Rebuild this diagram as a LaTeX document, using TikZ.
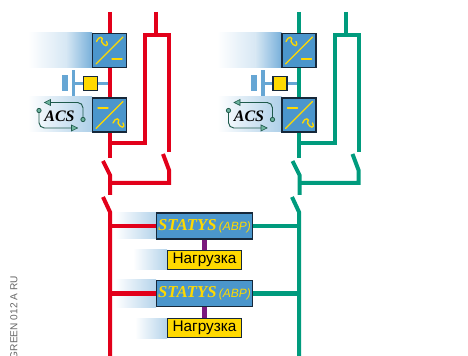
\documentclass[tikz,border=0pt]{standalone}
\usepackage{fontspec}
\setmainfont{Liberation Sans}
\newfontfamily\serifbi[BoldFont=Liberation Serif Bold,ItalicFont=Liberation Serif Italic]{Liberation Serif}
\usetikzlibrary{calc}
\definecolor{cred}{HTML}{E2001A}
\definecolor{cgreen}{HTML}{009B7D}
\definecolor{cpurple}{HTML}{7B1A7D}
\definecolor{cyel}{HTML}{FFD900}
\definecolor{cblue}{HTML}{4B96CC}
\definecolor{cshade}{HTML}{78B0DA}
\definecolor{cdark}{HTML}{16283A}
\definecolor{cacs}{HTML}{1F5A4C}
\definecolor{cacsf}{HTML}{6FB5A0}
\tikzset{
  x=0.75pt,y=-0.75pt,
  bus/.style={line width=3pt,line join=miter},
  conv/.style={draw=cdark,line width=1.1pt,fill=cblue,minimum size=25.5pt,inner sep=0pt},
  sym/.style={draw=cyel,line width=1pt,line cap=round},
  statys/.style={draw=cdark,line width=0.9pt,fill=cblue,minimum width=72.5pt,minimum height=19.5pt,inner sep=0pt},
  load/.style={draw=cdark,line width=0.9pt,fill=cyel,minimum width=56pt,minimum height=14.5pt,inner sep=0pt,font=\fontsize{11.5}{12}\selectfont},
  ctrl/.style={draw=cdark,line width=1.1pt,fill=cyel,minimum size=10.5pt,inner sep=0pt},
  batt/.style={fill=cblue!85},
  dc/.style={draw=cblue!85,line width=2.6pt},
  loop/.style={draw=cacs,line width=0.7pt,rounded corners=4pt},
  dotn/.style={circle,draw=cacs,line width=0.6pt,fill=cacsf,minimum size=3.2pt,inner sep=0pt},
  headtip/.style={fill=cacsf,draw=cacs,line width=0.5pt},
  acstext/.style={inner sep=0pt,font=\serifbi\fontsize{12}{12}\selectfont\bfseries\itshape,text=black},
  stname/.style={inner sep=0pt,text=cyel},
}
% soft fade: x0 to x1, y0 to y1, end tint
\newcommand{\softhalo}[5]{%
  \fill[left color=white,right color=cshade!#5!white] (#1,#2) rectangle ({#1+0.6*(#3-#1)},#4);
  \fill[left color=cshade!#5!white,right color=cshade] ({#1+0.6*(#3-#1)-0.3},#2) rectangle (#3,#4);
}
\newcommand{\softhalopale}[5]{%
  \fill[left color=white,right color=cshade!#5!white] (#1,#2) rectangle (#3,#4);
}
\newcommand{\waveat}[2]{\draw[sym] (#1,#2) .. controls ++(2,-6) and ++(3,-5) .. ++(5,0) .. controls ++(2,5) and ++(3,6) .. ++(5,0);}
\newcommand{\statystext}{{\serifbi\fontsize{12.5}{12}\selectfont\bfseries\itshape STATYS}\,{\fontsize{9}{9}\selectfont\itshape (АВР)}}
\newcommand{\column}[3]{% prefix, dx, colour
  \begin{scope}[shift={(#2,0)}]
    \softhalo{28}{33}{92}{68}{30}
    \softhalopale{28}{97}{92}{132}{60}
    \coordinate (#1top1) at (109.5,12);
    \coordinate (#1end1) at (109.5,158);
    \coordinate (#1tee1) at (109.5,143.5);
    \coordinate (#1up) at (145,143.5);
    \coordinate (#1corner) at (145,35);
    \coordinate (#1cornerb) at (169,35);
    \coordinate (#1end2) at (169,152);
    \coordinate (#1top2) at (156,12);
    \coordinate (#1tee2) at (156,35);
    \coordinate (#1swa) at (103,161);
    \coordinate (#1swb) at (110,175);
    \coordinate (#1swc) at (110,195);
    \coordinate (#1swd) at (163,154);
    \coordinate (#1swe) at (169,170);
    \coordinate (#1swf) at (169,183);
    \coordinate (#1swg) at (110,183);
    \draw[bus,color=#3] (#1top1) -- (#1end1);
    \draw[bus,color=#3] (#1tee1) -- (#1up) -- (#1corner) -- (#1cornerb) -- (#1end2);
    \draw[bus,color=#3] (#1top2) -- (#1tee2);
    \draw[bus,color=#3] (#1swa) -- (#1swb) -- (#1swc);
    \draw[bus,color=#3] (#1swd) -- (#1swe) -- (#1swf) -- (#1swg);
    \node[conv] (#1c1) at (109.5,50.5) {};
    \node[conv] (#1c2) at (109.5,115) {};
    \waveat{96.5}{41.5}
    \draw[sym] (96,64) -- (123,37);
    \draw[sym] (112,59) -- (122,59);
    \draw[sym] (98,108) -- (108,108);
    \draw[sym] (96,128.5) -- (123,101.5);
    \waveat{113}{123}
    \begin{scope}[shift={(-0.5,0)}]
      \fill[batt] (62,75) rectangle (68,91);
      \fill[batt] (72,70) rectangle (75.5,96);
      \coordinate (#1batl) at (75,83.5);
      \coordinate (#1batr) at (108,83.5);
      \node[ctrl] (#1bat) at (91,83.5) {};
      \draw[dc] (#1batl) -- (#1bat.west);
      \draw[dc] (#1bat.east) -- (#1batr);
    \end{scope}
    \begin{scope}[shift={(-1.5,0)}]
      \node[acstext] (#1acs) at (61,116) {ACS};
      \node[dotn] (#1d1) at (84.5,119.5) {};
      \node[dotn] (#1d2) at (40.5,110.5) {};
      \coordinate (#1a1) at (84.5,102.5);
      \coordinate (#1a2) at (46,102.5);
      \coordinate (#1b1) at (40.5,128);
      \coordinate (#1b2) at (79,128);
      \draw[loop] (#1d1) -- (#1a1) -- (#1a2);
      \draw[loop] (#1d2) -- (#1b1) -- (#1b2);
      \fill[headtip] (#1a2) -- ++(6,-3) -- ++(0,6) -- cycle;
      \fill[headtip] (#1b2) -- ++(-6,-3) -- ++(0,6) -- cycle;
    \end{scope}
  \end{scope}
}
\begin{document}
\begin{tikzpicture}
  \useasboundingbox (0,0) rectangle (468,356);
  \clip (0,0) rectangle (468,356);
  \column{r}{0}{cred}
  \column{g}{189.5}{cgreen}

  % lower halos
  \softhalopale{115}{213}{156}{239}{55}
  \softhalopale{133}{250}{167}{270}{55}
  \softhalopale{115}{280}{156}{307}{55}
  \softhalopale{135}{318}{167}{338}{55}

  % nodes
  \node[statys] (s1) at (204.5,226) {};
  \node[statys] (s2) at (204.5,293.5) {};
  \node[load] (l1) at (204.5,260) {Нагрузка};
  \node[load] (l2) at (204.5,328) {Нагрузка};
  \node[stname] (s1t) at (204.5,226) {\statystext};
  \node[stname] (s2t) at (204.5,293.5) {\statystext};

  % buses
  \coordinate (ra) at (103,197);
  \coordinate (rb) at (110,212);
  \coordinate (rc) at (110,356);
  \coordinate (ga) at (292,197);
  \coordinate (gb) at (299,212);
  \coordinate (gc) at (299,356);
  \coordinate (rj1) at (110,226);
  \coordinate (rj2) at (110,293.5);
  \coordinate (gj1) at (299,226);
  \coordinate (gj2) at (299,293.5);
  \draw[bus,color=cred] (ra) -- (rb) -- (rc);
  \draw[bus,color=cgreen] (ga) -- (gb) -- (gc);
  \draw[bus,color=cred] (rj1) -- (s1.west);
  \draw[bus,color=cred] (rj2) -- (s2.west);
  \draw[bus,color=cgreen] (gj1) -- (s1.east);
  \draw[bus,color=cgreen] (gj2) -- (s2.east);
  \draw[line width=3.6pt,color=cpurple] (s1.south) -- (l1.north);
  \draw[line width=3.6pt,color=cpurple] (s2.south) -- (l2.north);

  \node[rotate=90,anchor=east,inner sep=0pt,text=black!60,font=\fontsize{7.6}{8}\selectfont] (code) at (14,276) {GREEN 012 A RU};
\end{tikzpicture}
\end{document}
